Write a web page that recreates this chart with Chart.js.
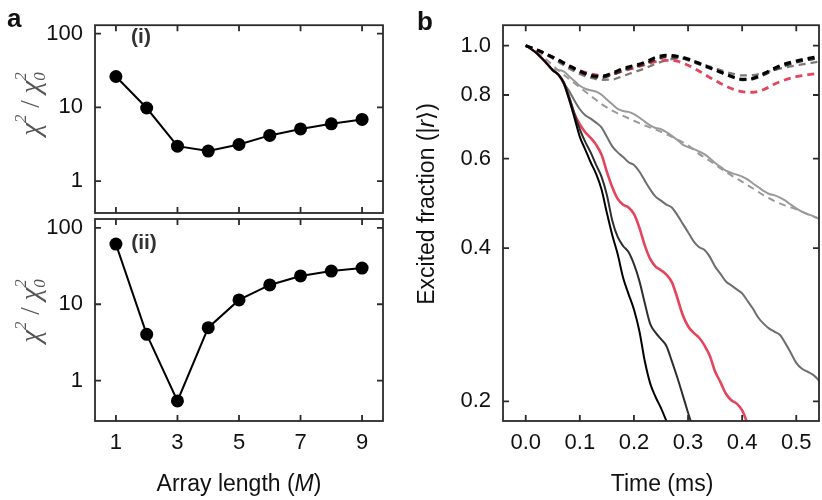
<!DOCTYPE html>
<html>
<head>
<meta charset="utf-8">
<script src="https://cdn.jsdelivr.net/npm/chart.js@4.4.1/dist/chart.umd.min.js"></script>
<style>
  html, body { margin: 0; padding: 0; background: #fff; }
  #wrap { position: relative; width: 822px; height: 500px; }
  #wrap canvas { position: absolute; left: 0; top: 0; }
</style>
</head>
<body>
<div id="wrap">
  <canvas id="chartA1" width="822" height="500"></canvas>
  <canvas id="chartA2" width="822" height="500"></canvas>
  <canvas id="chartB" width="822" height="500"></canvas>
</div>
<script>
// panel a: chi^2 / chi^2_0 vs array length
const arrayLength = [1, 2, 3, 4, 5, 6, 7, 8, 9];
const chiRatioI = [26.2, 9.8, 2.98, 2.56, 3.14, 4.17, 5.1, 5.98, 6.87];
const chiRatioII = [61.5, 4.03, 0.54, 4.93, 11.4, 17.9, 23.5, 27.2, 29.8];
const lengthTicks = [1, 3, 5, 7, 9];
const chiTicks = [1, 10, 100];

// panel b: excited fraction vs time (ms)
const timeFine = [0, 0.01, 0.02, 0.03, 0.04, 0.05, 0.06, 0.07, 0.08, 0.09,
  0.10, 0.11, 0.12, 0.13, 0.14, 0.15, 0.16, 0.17, 0.18, 0.19,
  0.20, 0.21, 0.22, 0.23, 0.24, 0.25, 0.26, 0.27, 0.28, 0.29,
  0.30, 0.31, 0.32, 0.33, 0.34, 0.35, 0.36, 0.37, 0.38, 0.39,
  0.40, 0.41, 0.42, 0.43, 0.44, 0.45, 0.46, 0.47, 0.48, 0.49,
  0.50, 0.51, 0.52, 0.53, 0.54, 0.55];
const timeCoarse = [0, 0.02, 0.04, 0.06, 0.08, 0.10, 0.12, 0.14, 0.16, 0.18,
  0.20, 0.22, 0.24, 0.26, 0.28, 0.30, 0.32, 0.34, 0.36, 0.38,
  0.40, 0.42, 0.44, 0.46, 0.48, 0.50, 0.52, 0.54];

const blackSolid = [1.0, 0.985, 0.967, 0.944, 0.920, 0.895, 0.877, 0.845, 0.785, 0.722,
  0.662, 0.625, 0.590, 0.560, 0.522, 0.469, 0.424, 0.389, 0.350, 0.325,
  0.303, 0.275, 0.240, 0.217, 0.204, 0.194, 0.183, 0.172];
const darkSolid = [1.0, 0.985, 0.967, 0.944, 0.920, 0.895, 0.878, 0.850, 0.795, 0.735,
  0.685, 0.647, 0.617, 0.583, 0.553, 0.509, 0.453, 0.421, 0.404, 0.393,
  0.372, 0.345, 0.312, 0.284, 0.273, 0.265, 0.257, 0.240, 0.223, 0.206,
  0.190, 0.176];
const redSolid = [1.0, 0.985, 0.967, 0.944, 0.920, 0.895, 0.878, 0.845, 0.790, 0.735,
  0.700, 0.676, 0.659, 0.639, 0.611, 0.565, 0.527, 0.500, 0.487, 0.481,
  0.467, 0.439, 0.405, 0.381, 0.368, 0.362, 0.355, 0.343, 0.320, 0.296,
  0.281, 0.273, 0.267, 0.258, 0.246, 0.229, 0.218, 0.207, 0.201, 0.198,
  0.192, 0.181, 0.172];
const graySolid = [1.0, 0.985, 0.967, 0.944, 0.920, 0.895, 0.878, 0.845, 0.815, 0.780,
  0.750, 0.730, 0.719, 0.706, 0.691, 0.662, 0.634, 0.617, 0.604, 0.590,
  0.583, 0.566, 0.543, 0.522, 0.505, 0.496, 0.487, 0.481, 0.465, 0.447,
  0.430, 0.413, 0.402, 0.397, 0.385, 0.368, 0.356, 0.344, 0.338, 0.332,
  0.326, 0.315, 0.304, 0.292, 0.284, 0.278, 0.274, 0.270, 0.260, 0.249,
  0.238, 0.232, 0.229, 0.226, 0.221, 0.214];
const lightSolid = [1.0, 0.985, 0.967, 0.944, 0.918, 0.898, 0.896, 0.890, 0.871, 0.852,
  0.834, 0.823, 0.817, 0.812, 0.801, 0.784, 0.767, 0.751, 0.744, 0.741,
  0.734, 0.722, 0.709, 0.697, 0.689, 0.685, 0.676, 0.665, 0.653, 0.639,
  0.632, 0.627, 0.620, 0.612, 0.601, 0.588, 0.578, 0.568, 0.562, 0.558,
  0.553, 0.546, 0.536, 0.527, 0.518, 0.511, 0.508, 0.503, 0.496, 0.487,
  0.479, 0.472, 0.467, 0.463, 0.458, 0.453];
const lightDashed = [1.0, 0.975, 0.935, 0.895, 0.860, 0.828, 0.797, 0.768, 0.745, 0.728,
  0.712, 0.697, 0.684, 0.670, 0.654, 0.637, 0.613, 0.594, 0.574, 0.556,
  0.540, 0.524, 0.508, 0.495, 0.485, 0.477, 0.467, 0.458];
const blackDashed = [1.0, 0.982, 0.961, 0.938, 0.914, 0.892, 0.875, 0.871, 0.884, 0.902,
  0.914, 0.928, 0.948, 0.958, 0.954, 0.942, 0.924, 0.906, 0.888, 0.871,
  0.859, 0.863, 0.882, 0.904, 0.922, 0.934, 0.944, 0.952];
const darkDashed = [1.0, 0.981, 0.959, 0.935, 0.910, 0.888, 0.871, 0.866, 0.878, 0.895,
  0.908, 0.921, 0.940, 0.951, 0.949, 0.938, 0.921, 0.903, 0.886, 0.869,
  0.857, 0.860, 0.877, 0.898, 0.915, 0.928, 0.938, 0.946];
const grayDashed = [1.0, 0.980, 0.957, 0.930, 0.902, 0.880, 0.865, 0.857, 0.858, 0.872,
  0.887, 0.902, 0.921, 0.936, 0.943, 0.940, 0.926, 0.910, 0.895, 0.882,
  0.874, 0.875, 0.884, 0.896, 0.906, 0.915, 0.922, 0.930];
const redDashed = [1.0, 0.982, 0.961, 0.938, 0.913, 0.893, 0.880, 0.873, 0.878, 0.892,
  0.904, 0.918, 0.930, 0.936, 0.932, 0.915, 0.892, 0.866, 0.843, 0.824,
  0.812, 0.810, 0.820, 0.841, 0.857, 0.869, 0.876, 0.882];
const timeTicks = [0, 0.1, 0.2, 0.3, 0.4, 0.5];
const fractionTicks = [0.2, 0.4, 0.6, 0.8, 1.0];

const RED = '#e4445c';
const SANS = '"Liberation Sans", Arial, sans-serif';
const SERIF = '"Liberation Serif", "Times New Roman", serif';
Chart.defaults.font.family = SANS;
const tickFont = { family: SANS, size: 22 };

const pairs = (xs, ys) => ys.map((y, i) => ({ x: xs[i], y: y }));

// closed box with inward tick marks on all four sides
const frameTicks = {
  id: 'frameTicks',
  afterDraw(chart) {
    const { ctx, chartArea: a, scales: { x, y } } = chart;
    ctx.save();
    ctx.strokeStyle = '#2a2a2a';
    ctx.lineWidth = 1.8;
    ctx.strokeRect(a.left, a.top, a.right - a.left, a.bottom - a.top);
    ctx.beginPath();
    x.ticks.forEach(t => {
      const px = x.getPixelForValue(t.value);
      ctx.moveTo(px, a.bottom); ctx.lineTo(px, a.bottom - 6);
      ctx.moveTo(px, a.top); ctx.lineTo(px, a.top + 6);
    });
    y.ticks.forEach(t => {
      const py = y.getPixelForValue(t.value);
      ctx.moveTo(a.left, py); ctx.lineTo(a.left + 6, py);
      ctx.moveTo(a.right, py); ctx.lineTo(a.right - 6, py);
    });
    ctx.stroke();
    ctx.restore();
  }
};

function drawRuns(ctx, item) {
  ctx.save();
  ctx.translate(item.x, item.y);
  if (item.rot) ctx.rotate(item.rot);
  ctx.textBaseline = item.baseline || 'middle';
  ctx.textAlign = 'left';
  let w = 0;
  item.runs.forEach(r => {
    ctx.font = r.font;
    if (r.adv !== 0) w += ctx.measureText(r.text).width;
  });
  let cx = item.align === 'left' ? 0 : -w / 2;
  item.runs.forEach(r => {
    ctx.font = r.font;
    ctx.fillStyle = r.color || item.color || '#111';
    ctx.fillText(r.text, cx, r.dy || 0);
    if (r.adv !== 0) cx += ctx.measureText(r.text).width;
  });
  ctx.restore();
}

const labelPlugin = items => ({
  id: 'labels',
  afterDraw(chart) { items.forEach(it => drawRuns(chart.ctx, it)); }
});

const chiLabel = (x, y) => ({
  x: x, y: y, rot: -Math.PI / 2, color: '#555',
  runs: [
    { text: 'χ', font: 'italic 29px ' + SERIF },
    { text: '2', font: 'italic 17px ' + SERIF, dy: -10 },
    { text: ' / ', font: '27px ' + SERIF },
    { text: 'χ', font: 'italic 29px ' + SERIF },
    { text: '2', font: 'italic 17px ' + SERIF, dy: -10, adv: 0 },
    { text: '0', font: 'italic 17px ' + SERIF, dy: 9 }
  ]
});

function chiChart(id, values, yMin, yMax, pad, showX, extraLabels) {
  return new Chart(document.getElementById(id), {
    type: 'line',
    data: {
      datasets: [{
        data: pairs(arrayLength, values),
        borderColor: '#000',
        backgroundColor: '#000',
        borderWidth: 2,
        pointRadius: 6.5,
        pointBorderWidth: 0,
        tension: 0,
        clip: false
      }]
    },
    options: {
      responsive: false,
      animation: false,
      devicePixelRatio: 1,
      layout: { padding: pad },
      plugins: { legend: { display: false }, tooltip: { enabled: false } },
      scales: {
        x: {
          type: 'linear', min: 0.32, max: 9.68,
          afterBuildTicks: s => { s.ticks = lengthTicks.map(v => ({ value: v })); },
          afterFit: s => { s.height = showX ? 40 : 0; },
          grid: { display: false, drawTicks: false },
          border: { display: false },
          ticks: { display: showX, autoSkip: false, maxRotation: 0, padding: 9, font: tickFont, color: '#111' }
        },
        y: {
          type: 'logarithmic', min: yMin, max: yMax,
          afterBuildTicks: s => { s.ticks = chiTicks.map(v => ({ value: v })); },
          afterFit: s => { s.width = 60; },
          grid: { display: false, drawTicks: false },
          border: { display: false },
          ticks: { padding: 12, font: tickFont, color: '#111', callback: v => String(v) }
        }
      }
    },
    plugins: [frameTicks, labelPlugin(extraLabels)]
  });
}

chiChart('chartA1', chiRatioI, 0.37, 130, { left: 35, top: 13, right: 439, bottom: 287 }, false, [
  { x: 7, y: 27, align: 'left', baseline: 'alphabetic', runs: [{ text: 'a', font: 'bold 26px ' + SANS }] },
  { x: 141, y: 37, color: '#333', runs: [{ text: '(i)', font: 'bold 21px ' + SANS }] },
  chiLabel(32, 104)
]);

chiChart('chartA2', chiRatioII, 0.295, 131, { left: 35, top: 219, right: 439, bottom: 39 }, true, [
  { x: 144, y: 243, color: '#333', runs: [{ text: '(ii)', font: 'bold 21px ' + SANS }] },
  chiLabel(32, 311),
  { x: 239, y: 485, runs: [
    { text: 'Array length (', font: '23px ' + SANS },
    { text: 'M', font: 'italic 23px ' + SANS },
    { text: ')', font: '23px ' + SANS }
  ] }
]);

const curve = (xs, ys, color, width, dash) => ({
  data: pairs(xs, ys),
  borderColor: color,
  borderWidth: width,
  borderDash: dash || [],
  pointRadius: 0,
  fill: false,
  cubicInterpolationMode: 'monotone',
  clip: 0
});

new Chart(document.getElementById('chartB'), {
  type: 'line',
  data: {
    datasets: [
      curve(timeCoarse, blackDashed, '#000', 2.8, [7, 5]),
      curve(timeCoarse, darkDashed, '#2a2a2a', 2.8, [7, 5]),
      curve(timeCoarse, redDashed, RED, 2.8, [7, 5]),
      curve(timeCoarse, grayDashed, '#7a7a7a', 2.3, [7, 5]),
      curve(timeFine, blackSolid, '#000', 2),
      curve(timeFine, darkSolid, '#2e2e2e', 2),
      curve(timeFine, redSolid, RED, 2.6),
      curve(timeFine, graySolid, '#6e6e6e', 2),
      curve(timeCoarse, lightDashed, '#9a9a9a', 2, [7, 5]),
      curve(timeFine, lightSolid, '#9a9a9a', 2)
    ]
  },
  options: {
    responsive: false,
    animation: false,
    devicePixelRatio: 1,
    layout: { padding: { left: 443, top: 10, right: 3, bottom: 39 } },
    plugins: { legend: { display: false }, tooltip: { enabled: false } },
    scales: {
      x: {
        type: 'linear', min: -0.042, max: 0.542,
        afterBuildTicks: s => { s.ticks = timeTicks.map(v => ({ value: v })); },
        afterFit: s => { s.height = 40; },
        grid: { display: false, drawTicks: false },
        border: { display: false },
        ticks: { autoSkip: false, maxRotation: 0, padding: 9, font: tickFont, color: '#111',
          callback: v => v.toFixed(1) }
      },
      y: {
        type: 'logarithmic', min: 0.183, max: 1.097,
        afterBuildTicks: s => { s.ticks = fractionTicks.map(v => ({ value: v })); },
        afterFit: s => { s.width = 60; },
        grid: { display: false, drawTicks: false },
        border: { display: false },
        ticks: { padding: 12, font: tickFont, color: '#111', callback: v => v.toFixed(1) }
      }
    }
  },
  plugins: [frameTicks, labelPlugin([
    { x: 417, y: 30, align: 'left', baseline: 'alphabetic', runs: [{ text: 'b', font: 'bold 26px ' + SANS }] },
    { x: 428, y: 204, rot: -Math.PI / 2, runs: [
      { text: 'Excited fraction (|', font: '23px ' + SANS },
      { text: 'r', font: 'italic 23px ' + SANS },
      { text: '⟩)', font: '23px ' + SANS }
    ] },
    { x: 662, y: 485, runs: [{ text: 'Time (ms)', font: '23px ' + SANS }] }
  ])]
});
</script>
</body>
</html>
